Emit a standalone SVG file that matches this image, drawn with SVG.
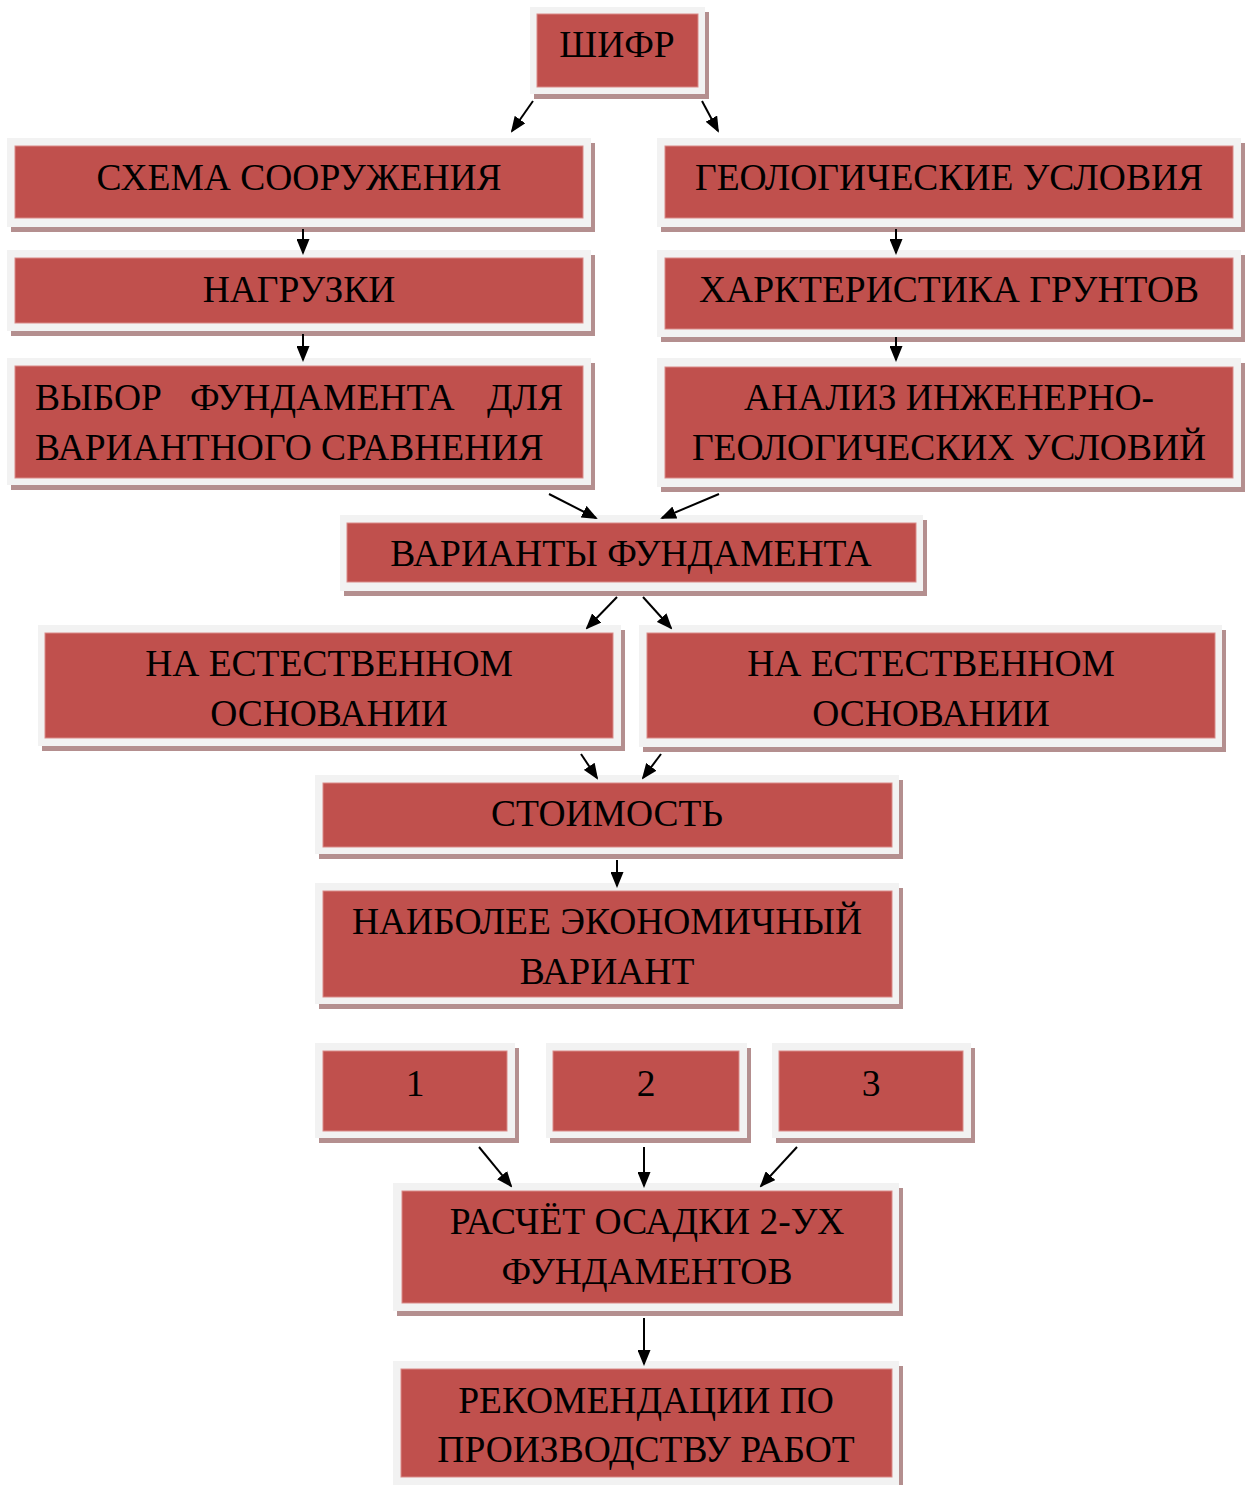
<svg xmlns="http://www.w3.org/2000/svg" width="1248" height="1485" viewBox="0 0 1248 1485">
<style>
.sh{fill:#b48f8f}
.fr{fill:#f2f2f2}
.rd{fill:#c0504d;stroke:#d98a88;stroke-width:1}
.t{font-family:"Liberation Serif","Times New Roman",serif;font-size:37.5px;fill:#000;text-anchor:middle}
.tl{font-family:"Liberation Serif","Times New Roman",serif;font-size:37.5px;fill:#000}
.c{stroke:#000;stroke-width:2;fill:none;marker-end:url(#ah)}
</style>
<defs>
<marker id="ah" markerWidth="16" markerHeight="13" refX="14" refY="6.5" orient="auto" markerUnits="userSpaceOnUse">
<path d="M0,0 L16,6.5 L0,13 z" fill="#000"/>
</marker>
</defs>
<rect width="1248" height="1485" fill="#fff"/>

<g id="shifr">
<rect class="sh" x="534" y="12" width="175" height="87"/>
<rect class="fr" x="530" y="7" width="175" height="87"/>
<rect class="rd" x="537" y="14" width="161" height="73"/>
<text class="t" x="617" y="57">ШИФР</text>
</g>
<g id="sxema">
<rect class="sh" x="11" y="143" width="584" height="89"/>
<rect class="fr" x="7" y="138" width="584" height="89"/>
<rect class="rd" x="15" y="146" width="568" height="72"/>
<text class="t" x="299" y="190">СХЕМА СООРУЖЕНИЯ</text>
</g>
<g id="geol">
<rect class="sh" x="661" y="143" width="584" height="89"/>
<rect class="fr" x="657" y="138" width="584" height="89"/>
<rect class="rd" x="665" y="146" width="568" height="72"/>
<text class="t" x="949" y="190">ГЕОЛОГИЧЕСКИЕ УСЛОВИЯ</text>
</g>
<g id="nagruzki">
<rect class="sh" x="11" y="255" width="584" height="81"/>
<rect class="fr" x="7" y="250" width="584" height="81"/>
<rect class="rd" x="15" y="258" width="568" height="65"/>
<text class="t" x="299" y="302">НАГРУЗКИ</text>
</g>
<g id="xarakt">
<rect class="sh" x="661" y="255" width="584" height="87"/>
<rect class="fr" x="657" y="250" width="584" height="87"/>
<rect class="rd" x="665" y="258" width="568" height="71"/>
<text class="t" x="949" y="302">ХАРКТЕРИСТИКА ГРУНТОВ</text>
</g>
<g id="vybor">
<rect class="sh" x="11" y="363" width="584" height="127"/>
<rect class="fr" x="7" y="358" width="584" height="127"/>
<rect class="rd" x="15" y="366" width="568" height="112"/>
<text class="tl" y="410"><tspan x="35">ВЫБОР</tspan><tspan x="190">ФУНДАМЕНТА</tspan><tspan x="563" text-anchor="end">ДЛЯ</tspan></text>
<text class="tl" x="35" y="460">ВАРИАНТНОГО СРАВНЕНИЯ</text>
</g>
<g id="analiz">
<rect class="sh" x="661" y="363" width="584" height="129"/>
<rect class="fr" x="657" y="358" width="584" height="129"/>
<rect class="rd" x="665" y="367" width="568" height="111"/>
<text class="t" x="949" y="410">АНАЛИЗ ИНЖЕНЕРНО-</text>
<text class="t" x="949" y="460">ГЕОЛОГИЧЕСКИХ УСЛОВИЙ</text>
</g>
<g id="varianty">
<rect class="sh" x="344" y="520" width="583" height="76"/>
<rect class="fr" x="340" y="515" width="583" height="76"/>
<rect class="rd" x="347" y="523" width="569" height="59"/>
<text class="t" x="631" y="566">ВАРИАНТЫ ФУНДАМЕНТА</text>
</g>
<g id="estestv1">
<rect class="sh" x="42" y="630" width="583" height="121"/>
<rect class="fr" x="38" y="625" width="583" height="121"/>
<rect class="rd" x="45" y="633" width="568" height="105"/>
<text class="t" x="329" y="676">НА ЕСТЕСТВЕННОМ</text>
<text class="t" x="329" y="726">ОСНОВАНИИ</text>
</g>
<g id="estestv2">
<rect class="sh" x="643" y="630" width="583" height="122"/>
<rect class="fr" x="639" y="625" width="583" height="122"/>
<rect class="rd" x="647" y="633" width="568" height="105"/>
<text class="t" x="931" y="676">НА ЕСТЕСТВЕННОМ</text>
<text class="t" x="931" y="726">ОСНОВАНИИ</text>
</g>
<g id="stoimost">
<rect class="sh" x="319" y="780" width="584" height="79"/>
<rect class="fr" x="315" y="775" width="584" height="79"/>
<rect class="rd" x="323" y="783" width="569" height="64"/>
<text class="t" x="607" y="826">СТОИМОСТЬ</text>
</g>
<g id="naibolee">
<rect class="sh" x="319" y="888" width="584" height="121"/>
<rect class="fr" x="315" y="883" width="584" height="121"/>
<rect class="rd" x="323" y="891" width="569" height="106"/>
<text class="t" x="607" y="934">НАИБОЛЕЕ ЭКОНОМИЧНЫЙ</text>
<text class="t" x="607" y="984">ВАРИАНТ</text>
</g>
<g id="v1">
<rect class="sh" x="319" y="1048" width="200" height="95"/>
<rect class="fr" x="315" y="1043" width="200" height="95"/>
<rect class="rd" x="323" y="1051" width="184" height="80"/>
<text class="t" x="415" y="1096">1</text>
</g>
<g id="v2">
<rect class="sh" x="550" y="1048" width="201" height="95"/>
<rect class="fr" x="546" y="1043" width="201" height="95"/>
<rect class="rd" x="553" y="1051" width="186" height="80"/>
<text class="t" x="646" y="1096">2</text>
</g>
<g id="v3">
<rect class="sh" x="776" y="1048" width="199" height="95"/>
<rect class="fr" x="772" y="1043" width="199" height="95"/>
<rect class="rd" x="779" y="1051" width="184" height="80"/>
<text class="t" x="871" y="1096">3</text>
</g>
<g id="raschet">
<rect class="sh" x="397" y="1188" width="506" height="128"/>
<rect class="fr" x="393" y="1183" width="506" height="128"/>
<rect class="rd" x="402" y="1191" width="490" height="112"/>
<text class="t" x="647" y="1234">РАСЧЁТ ОСАДКИ 2-УХ</text>
<text class="t" x="647" y="1284">ФУНДАМЕНТОВ</text>
</g>
<g id="rekom">
<rect class="sh" x="397" y="1366" width="506" height="124"/>
<rect class="fr" x="393" y="1361" width="506" height="124"/>
<rect class="rd" x="401" y="1369" width="491" height="108"/>
<text class="t" x="646" y="1413">РЕКОМЕНДАЦИИ ПО</text>
<text class="t" x="646" y="1462">ПРОИЗВОДСТВУ РАБОТ</text>
</g>

<g id="connectors">
<line class="c" x1="533" y1="101" x2="512" y2="131"/>
<line class="c" x1="702" y1="101" x2="718" y2="131"/>
<line class="c" x1="303" y1="229" x2="303" y2="253"/>
<line class="c" x1="303" y1="334" x2="303" y2="360"/>
<line class="c" x1="896" y1="229" x2="896" y2="253"/>
<line class="c" x1="896" y1="337" x2="896" y2="360"/>
<line class="c" x1="549" y1="494" x2="596" y2="518"/>
<line class="c" x1="719" y1="494" x2="662" y2="518"/>
<line class="c" x1="617" y1="597" x2="587" y2="628"/>
<line class="c" x1="643" y1="597" x2="671" y2="628"/>
<line class="c" x1="581" y1="754" x2="597" y2="778"/>
<line class="c" x1="661" y1="754" x2="643" y2="778"/>
<line class="c" x1="617" y1="860" x2="617" y2="886"/>
<line class="c" x1="479" y1="1147" x2="511" y2="1186"/>
<line class="c" x1="644" y1="1147" x2="644" y2="1186"/>
<line class="c" x1="797" y1="1147" x2="761" y2="1186"/>
<line class="c" x1="644" y1="1318" x2="644" y2="1364"/>
</g>
</svg>
